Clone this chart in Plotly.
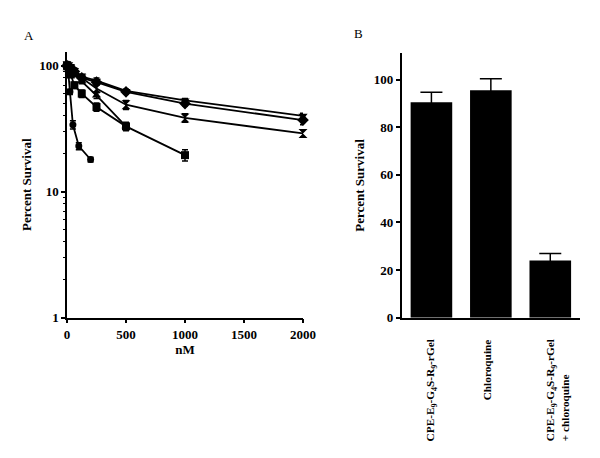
import plotly.graph_objects as go

# ---------------- Panel A data ----------------
conc_circle = [0, 12.5, 25, 50, 100, 200]
surv_circle = [100, 85, 62, 34, 23, 18]
err_circle = [4, 4, 3, 2.5, 1.5, 0.8]

conc_square = [0, 15.6, 31.25, 62.5, 125, 250, 500, 1000]
surv_square = [100, 95, 85, 70, 60, 47, 33, 19.5]
err_square = [4, 4, 4, 4, 4, 3.5, 2.5, 2]

conc_tri = [0, 15.6, 31.25, 62.5, 125, 250, 500]
surv_tri = [100, 98, 92, 85, 75, 58, 33]
err_tri = [4, 4, 4, 3, 3, 3, 2]

conc_hour = [0, 15.6, 31.25, 62.5, 125, 250, 500, 1000, 2000]
surv_hour = [100, 98, 95, 88, 80, 66, 49, 38.5, 29]
err_hour = [4, 4, 4, 4, 4, 4, 4, 3, 2]

conc_diam = [0, 15.6, 31.25, 62.5, 125, 250, 500, 1000, 2000]
surv_diam = [100, 99, 96, 90, 80, 74, 62, 50, 37]
err_diam = [4, 4, 4, 4, 3, 3, 2, 2, 3]

conc_top = [0, 15.6, 31.25, 62.5, 125, 250, 500, 1000, 2000]
surv_top = [100, 99, 97, 92, 82, 76, 63, 53, 40]
err_top = [4, 4, 4, 4, 3, 4, 2, 2, 2]

series_a = [
    (conc_circle, surv_circle, err_circle, "circle", 7),
    (conc_square, surv_square, err_square, "square", 8),
    (conc_tri, surv_tri, err_tri, "triangle-up", 8),
    (conc_hour, surv_hour, err_hour, "hourglass", 9),
    (conc_diam, surv_diam, err_diam, "diamond", 9),
    (conc_top, surv_top, err_top, "triangle-down", 8),
]

a_xticks = [0, 500, 1000, 1500, 2000]
a_yticks = [1, 10, 100]
a_yminor = [2, 3, 4, 5, 6, 7, 8, 9, 20, 30, 40, 50, 60, 70, 80, 90]

# ---------------- Panel B data ----------------
b_categories = ["c1", "c2", "c3"]
b_labels = [
    "CPE-E<sub>9</sub>-G<sub>4</sub>S-R<sub>9</sub>-rGel",
    "Chloroquine",
    "CPE-E<sub>9</sub>-G<sub>4</sub>S-R<sub>9</sub>-rGel<br>+ chloroquine",
]
b_label_shift = [0, -4, 7]
b_values = [90.5, 95.5, 24]
b_errors = [4.2, 4.8, 3]
b_yticks = [0, 20, 40, 60, 80, 100]

FONT = "Liberation Serif"
fig = go.Figure()

for xs, ys, es, sym, sz in series_a:
    fig.add_trace(go.Scatter(
        x=xs, y=ys, mode="lines+markers",
        line=dict(color="black", width=1.8),
        marker=dict(symbol=sym, size=sz, color="black"),
        error_y=dict(type="data", array=es, visible=True, color="black",
                     thickness=1.5, width=3),
        cliponaxis=False, showlegend=False,
        xaxis="x", yaxis="y",
    ))

fig.add_trace(go.Bar(
    x=b_categories, y=b_values, width=0.7,
    marker=dict(color="black", line=dict(width=0)),
    error_y=dict(type="data", array=b_errors, visible=True, color="black",
                 thickness=1.5, width=11),
    showlegend=False, xaxis="x2", yaxis="y2",
))

# the page body adds an 8px offset; the figure fills the rest of the window
OFF = 8
W, H = 600 - OFF, 458 - OFF
def px_x(p):
    return (p - OFF) / W
def px_y(p):
    return 1 - (p - OFF) / H

tickfont = dict(family=FONT, size=13, color="black", weight="bold")
titlefont = dict(family=FONT, size=13, color="black", weight="bold")

common = dict(showline=True, linecolor="black", linewidth=1.5,
              showgrid=False, zeroline=False, automargin=False)

fig.update_layout(
    template="none",
    width=W, height=H,
    margin=dict(l=0, r=0, t=0, b=0, autoexpand=False),
    paper_bgcolor="white", plot_bgcolor="white",
    showlegend=False,
    xaxis=dict(
        domain=[px_x(67), px_x(303)], range=[0, 2000],
        tickvals=a_xticks, ticks="outside", ticklen=4, tickwidth=1.5,
        tickcolor="black", tickfont=tickfont,
        title=dict(text="nM", font=titlefont, standoff=4),
        anchor="y", **common,
    ),
    yaxis=dict(
        domain=[px_y(317.7), px_y(51.7)], type="log", range=[0, 2.111],
        tickvals=a_yticks, ticktext=[str(v) for v in a_yticks],
        ticks="outside", ticklen=4, tickwidth=1.5, tickcolor="black",
        minor=dict(tickvals=a_yminor, ticks="outside", ticklen=2.5,
                   tickwidth=1, tickcolor="black", showgrid=False),
        tickfont=tickfont,
        title=dict(text="Percent Survival", font=titlefont, standoff=5),
        anchor="x", **common,
    ),
    xaxis2=dict(
        domain=[px_x(401.7), px_x(580)], range=[-0.5, 2.5],
        type="category", showticklabels=False, ticks="",
        anchor="y2", **common,
    ),
    yaxis2=dict(
        domain=[px_y(317.7), px_y(53.3)], range=[0, 111],
        tickvals=b_yticks, ticks="outside", ticklen=4, tickwidth=1.5,
        tickcolor="black", tickfont=tickfont,
        title=dict(text="Percent Survival", font=titlefont, standoff=6),
        anchor="x2", **common,
    ),
)

for cat, lab, sh in zip(b_categories, b_labels, b_label_shift):
    fig.add_annotation(
        x=cat, xref="x2", y=px_y(337), yref="paper",
        text=lab, textangle=-90, showarrow=False, xshift=sh,
        xanchor="center", yanchor="top", align="left",
        font=dict(family=FONT, size=11.3, color="black", weight="bold"),
    )

fig.add_annotation(x=px_x(29), y=px_y(35), xref="paper", yref="paper",
                   text="A", showarrow=False,
                   xanchor="center", yanchor="middle",
                   font=dict(family=FONT, size=13, color="black"))
fig.add_annotation(x=px_x(358), y=px_y(33), xref="paper", yref="paper",
                   text="B", showarrow=False,
                   xanchor="center", yanchor="middle",
                   font=dict(family=FONT, size=13, color="black"))

fig.write_html("out.html")
